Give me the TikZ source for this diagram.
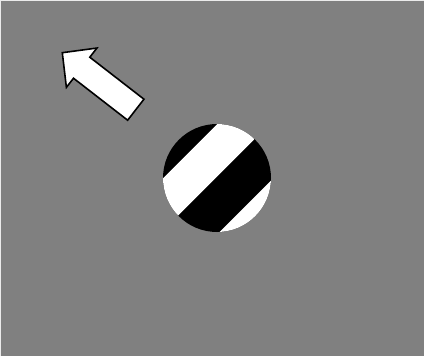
\documentclass[tikz,border=0pt]{standalone}
\definecolor{bg}{RGB}{128,128,128}
\definecolor{edge}{RGB}{235,235,235}
\tikzset{
  arrowshape/.style={fill=white, draw=black, line width=1.6pt, line join=miter},
  band/.style={fill=white, draw=none}
}
\begin{document}
\begin{tikzpicture}[x=1pt,y=-1pt]
\useasboundingbox (0,0) rectangle (424,356);
\fill[edge] (0,0) rectangle (424,356);
\fill[bg] (1.2,1.2) rectangle (424,356);
% grating disc
\begin{scope}
  \clip (217,178) circle (54);
  \fill[black] (217,178) circle (55);
  \fill[band] (246.70,94.56) -- (133.56,207.70) -- (159.72,233.86) -- (272.86,120.72) -- cycle;
  \fill[band] (301.85,149.71) -- (188.71,262.85) -- (245.28,319.42) -- (358.42,206.28) -- cycle;
\end{scope}
% arrow
\draw[arrowshape] (62.3,52.7) -- (96.92,48.05) -- (89.81,57.21) -- (143.95,99.19)
  -- (127.65,120.21) -- (73.51,78.23) -- (66.40,87.39) -- cycle;
\end{tikzpicture}
\end{document}
